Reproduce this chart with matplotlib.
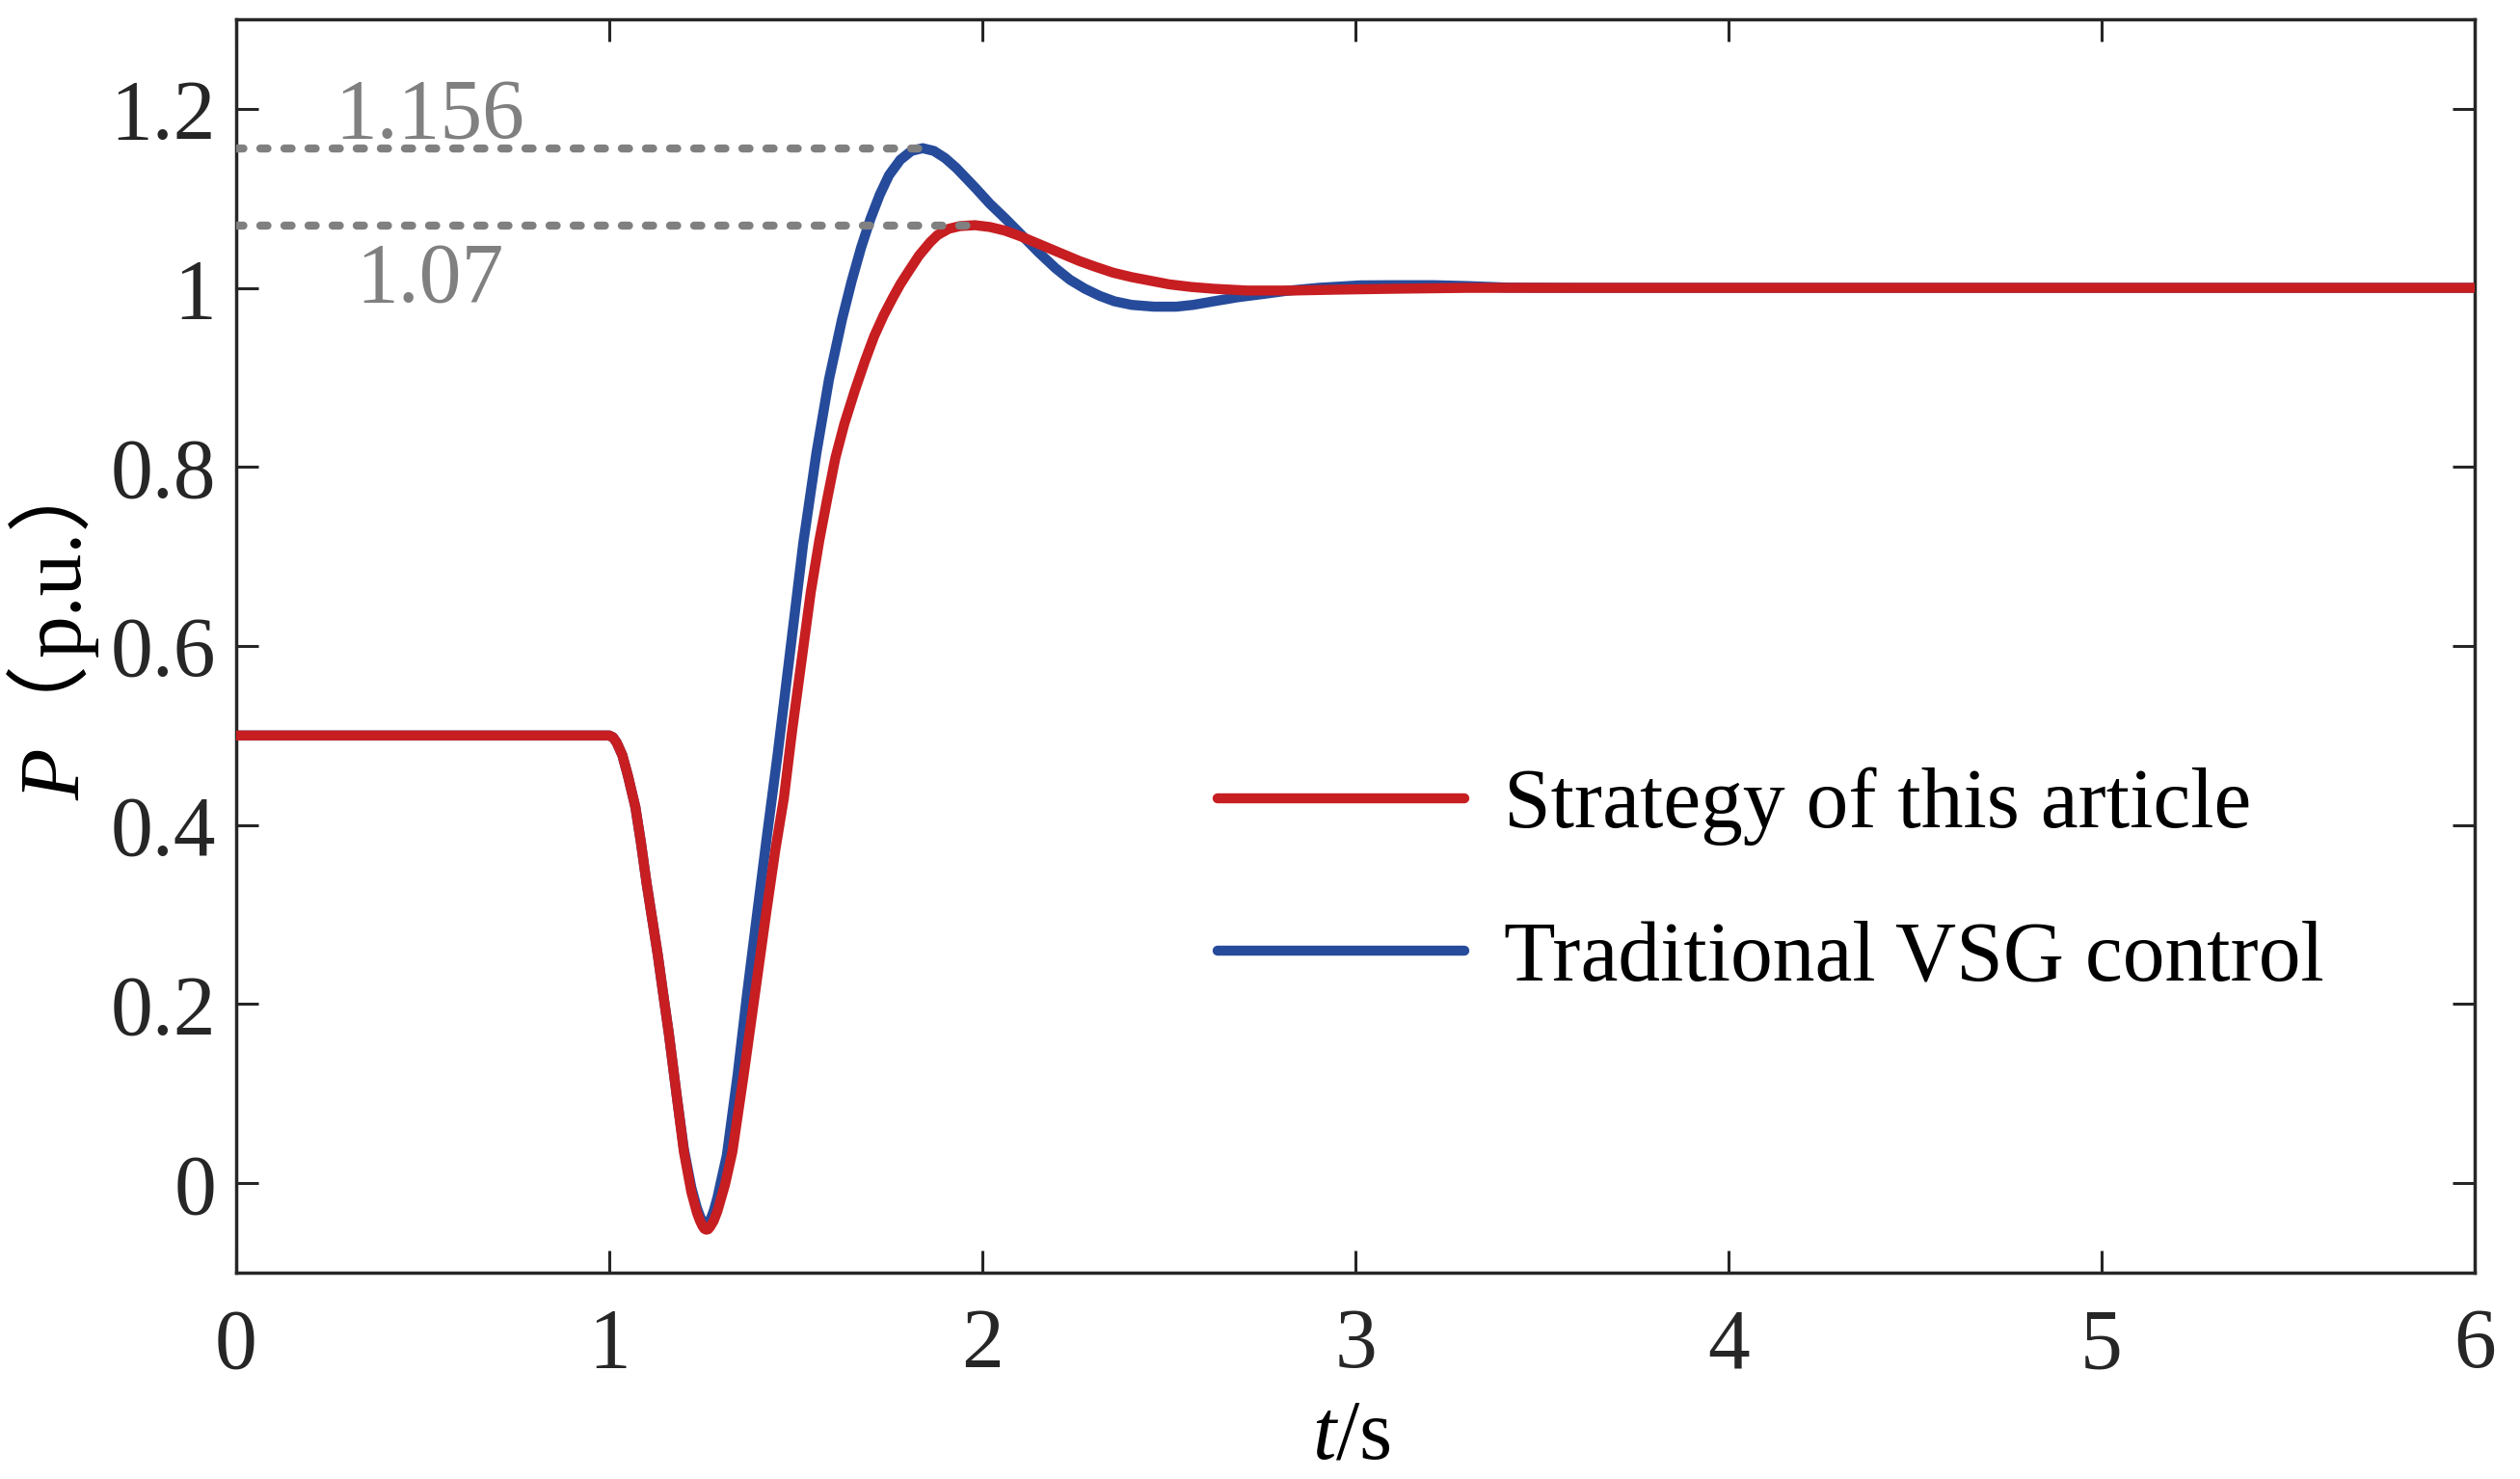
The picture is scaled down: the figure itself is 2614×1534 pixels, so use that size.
import matplotlib
matplotlib.use("Agg")
import matplotlib.pyplot as plt

plt.rcParams['font.family'] = ['Liberation Serif', 'Noto Sans CJK SC']
plt.rcParams['mathtext.fontset'] = 'custom'
plt.rcParams['mathtext.rm'] = 'Liberation Serif'
plt.rcParams['mathtext.it'] = 'Liberation Serif:italic'

# "Strategy of this article" (red)
t_new = [0.0, 1.0, 1.01, 1.02, 1.035, 1.05, 1.07, 1.085, 1.10, 1.115, 1.13, 1.145,
         1.16, 1.18, 1.20, 1.22, 1.235, 1.243, 1.25, 1.255, 1.26, 1.265, 1.27, 1.28,
         1.29, 1.31, 1.33, 1.36, 1.39, 1.42, 1.445, 1.468, 1.49, 1.52, 1.54, 1.563,
         1.585, 1.606, 1.63, 1.658, 1.685, 1.71, 1.735, 1.76, 1.78, 1.80, 1.83, 1.86,
         1.88, 1.91, 1.94, 1.98, 2.02, 2.06, 2.10, 2.14, 2.18, 2.22, 2.26, 2.30,
         2.35, 2.40, 2.45, 2.50, 2.56, 2.62, 2.71, 2.83, 2.95, 3.1, 3.3, 6.0]
p_new = [0.5, 0.5, 0.498, 0.492, 0.478, 0.455, 0.42, 0.38, 0.335, 0.295, 0.255, 0.21,
         0.166, 0.10, 0.035, -0.01, -0.033, -0.042, -0.048, -0.051, -0.052, -0.0515,
         -0.049, -0.042, -0.031, -0.002, 0.035, 0.12, 0.21, 0.30, 0.372, 0.43, 0.505,
         0.598, 0.66, 0.718, 0.766, 0.81, 0.848, 0.885, 0.918, 0.946, 0.969, 0.989,
         1.004, 1.017, 1.036, 1.051, 1.059, 1.066, 1.069, 1.07, 1.068, 1.064, 1.058,
         1.051, 1.044, 1.037, 1.030, 1.024, 1.017, 1.012, 1.008, 1.004, 1.001, 0.999,
         0.997, 0.997, 0.998, 0.999, 1.0, 1.0]

# "Traditional VSG control" (blue)
t_vsg = [0.0, 1.0, 1.01, 1.02, 1.035, 1.05, 1.07, 1.085, 1.10, 1.115, 1.13, 1.145,
         1.16, 1.18, 1.20, 1.22, 1.235, 1.245, 1.255, 1.262, 1.27, 1.28, 1.29, 1.30,
         1.315, 1.344, 1.369, 1.396, 1.423, 1.451, 1.486, 1.52, 1.555, 1.589, 1.624,
         1.65, 1.675, 1.70, 1.725, 1.75, 1.78, 1.81, 1.84, 1.87, 1.90, 1.93, 1.96,
         1.985, 2.02, 2.065, 2.11, 2.15, 2.196, 2.235, 2.275, 2.315, 2.354, 2.40, 2.46,
         2.52, 2.565, 2.62, 2.684, 2.75, 2.816, 2.9, 3.013, 3.1, 3.211, 3.3, 3.408,
         3.6, 6.0]
p_vsg = [0.5, 0.5, 0.498, 0.492, 0.478, 0.455, 0.42, 0.38, 0.335, 0.295, 0.255, 0.21,
         0.166, 0.10, 0.038, -0.005, -0.028, -0.039, -0.045, -0.046, -0.042, -0.031,
         -0.016, 0.003, 0.031, 0.121, 0.21, 0.30, 0.389, 0.478, 0.598, 0.715, 0.815,
         0.898, 0.965, 1.008, 1.045, 1.077, 1.104, 1.126, 1.143, 1.153, 1.156, 1.153,
         1.145, 1.134, 1.121, 1.11, 1.094, 1.076, 1.057, 1.040, 1.022, 1.009, 0.999,
         0.991, 0.985, 0.981, 0.979, 0.979, 0.981, 0.985, 0.9895, 0.993, 0.9967, 1.0,
         1.0028, 1.003, 1.003, 1.002, 1.0003, 1.0, 1.0]

# overshoot markers
peak_vals = [1.156, 1.07]
peak_times = [1.85, 1.97]
peak_labels = ['1.156', '1.07']
peak_label_pos = [(0.264, 1.1675), (0.321, 0.9845)]

xticks = [0, 1, 2, 3, 4, 5, 6]
yticks = [0, 0.2, 0.4, 0.6, 0.8, 1.0, 1.2]
ytick_labels = ['0', '0.2', '0.4', '0.6', '0.8', '1', '1.2']

red = '#C71E22'
blue = '#264B9B'
gray = '#808080'
dark = '#262626'
fs = 63
W, H = 2614, 1534

fig = plt.figure(figsize=(W/100, H/100), dpi=100)
ax = fig.add_axes([245/W, 1 - 1320/H, (2567-245)/W, (1320-20)/H])

lb, = ax.plot(t_vsg, p_vsg, color=blue, lw=7.5, solid_joinstyle='round', zorder=2)
lr, = ax.plot(t_new, p_new, color=red, lw=7.5, solid_joinstyle='round', zorder=3)

for v, tp in zip(peak_vals, peak_times):
    ax.plot([0, tp], [v, v], color=gray, lw=6, linestyle=(0, (0.9, 2.1)),
            dash_capstyle='round', zorder=4)
for lab, (xx, yy) in zip(peak_labels, peak_label_pos):
    ax.text(xx, yy, lab, color=gray, fontsize=fs, va='baseline', ha='left')

ax.set_xlim(0, 6)
ax.set_ylim(-0.1, 1.3)
ax.set_xticks(xticks)
ax.set_yticks(yticks)
ax.set_yticklabels(ytick_labels)
ax.tick_params(direction='in', top=True, right=True, length=16.5, width=2.2,
               color=dark, labelcolor=dark, labelsize=fs)
ax.tick_params(axis='x', pad=26)
ax.tick_params(axis='y', pad=15)
for s in ax.spines.values():
    s.set_linewidth(2.5)
    s.set_color(dark)

leg = ax.legend([lr, lb], ['Strategy of this article', 'Traditional VSG control'],
                loc='center left', bbox_to_anchor=(0.4384, 0.311), frameon=False,
                fontsize=fs, handlelength=2.93, handletextpad=0.47,
                labelspacing=0.88, borderpad=0, borderaxespad=0)
for h in leg.get_lines():
    h.set_solid_capstyle('round')

fig.text(1402/W, (H-1513)/H, '$t$/s', fontsize=fs, ha='center',
         va='baseline', color='black')

# y label in two rotated pieces; each starts with a Latin glyph so the
# rotated bitmap is not shifted by the wide bearing of the fullwidth paren
ylab_kw = dict(fontsize=fs, rotation=90, rotation_mode='anchor', ha='left',
               va='baseline', color='black')
fig.text(83/W, (H-830)/H, 'P（', fontstyle='italic', **ylab_kw)
fig.text(83/W, (H-681)/H, 'p.u.）', **ylab_kw)

fig.savefig('out.png', dpi=100)
